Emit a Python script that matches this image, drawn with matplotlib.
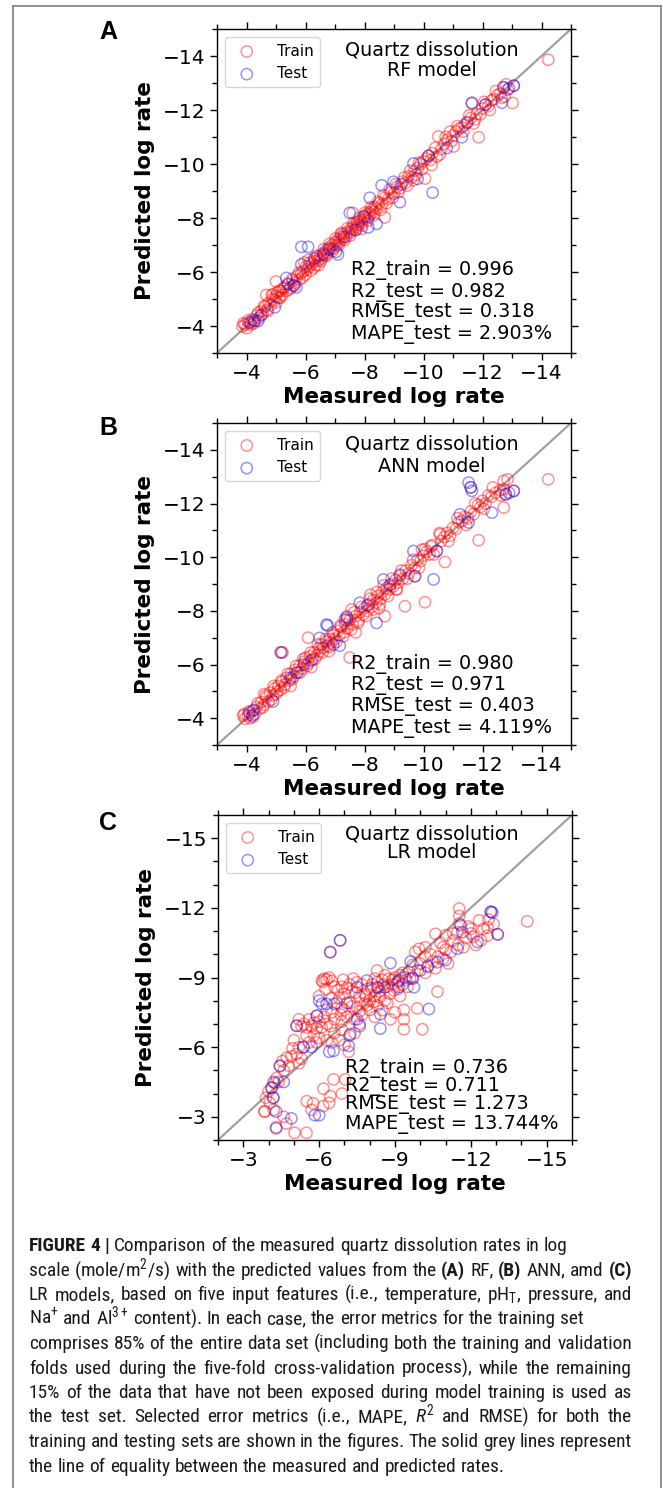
import numpy as np
import matplotlib
matplotlib.use("Agg")
import matplotlib.pyplot as plt
from matplotlib.ticker import MultipleLocator
from matplotlib.lines import Line2D
from matplotlib import font_manager as fm

# ---------------- data (measured, predicted) ----------------
rf_train = [(-3.86,-3.98),(-3.95,-4.05),(-4.02,-3.92),(-4.08,-4.12),(-4.15,-4.05),(-4.2,-4.25),(-4.3,-4.18),
    (-4.35,-4.4),(-4.42,-4.3),(-4.5,-4.55),(-4.55,-4.45),(-4.62,-4.7),(-4.7,-4.6),(-4.75,-4.85),(-4.82,-4.78),
    (-4.9,-5.18),(-4.95,-4.95),(-5.0,-5.1),(-5.05,-5.25),(-5.1,-5.05),(-5.18,-5.3),(-5.22,-5.15),(-5.3,-5.45),
    (-5.35,-5.3),(-5.0,-5.65),(-4.67,-5.15),(-4.85,-5.15),(-5.42,-5.55),(-5.5,-5.42),(-5.58,-5.68),(-5.65,-5.6),
    (-5.72,-5.85),(-5.8,-5.72),(-5.85,-5.95),(-5.92,-6.02),(-5.96,-6.35),(-6.0,-5.9),(-6.05,-6.1),(-6.12,-6.2),
    (-6.18,-6.05),(-6.22,-6.3),(-6.3,-6.4),(-6.35,-6.25),(-6.4,-6.55),(-6.45,-6.45),(-6.5,-6.6),(-6.55,-6.5),
    (-6.6,-6.7),(-6.65,-6.62),(-6.7,-6.8),(-6.75,-6.7),(-6.8,-6.9),(-6.85,-6.82),(-6.9,-7.0),(-6.95,-6.88),
    (-7.0,-7.1),(-7.05,-7.0),(-7.1,-7.2),(-7.15,-7.12),(-7.2,-7.3),(-7.25,-7.22),(-7.3,-7.4),(-7.38,-7.3),
    (-7.45,-7.5),(-7.5,-7.45),(-7.55,-7.62),(-7.6,-7.55),(-7.65,-7.72),(-7.7,-7.65),(-7.75,-7.85),(-7.8,-7.75),
    (-7.85,-7.9),(-7.9,-7.82),(-7.95,-8.05),(-8.0,-7.95),(-8.05,-8.12),(-8.1,-8.0),(-8.15,-8.2),(-8.2,-8.15),
    (-8.25,-8.3),(-8.3,-8.22),(-8.35,-8.42),(-8.4,-8.35),(-8.5,-8.55),(-8.6,-8.5),(-8.69,-8.02),(-7.6,-8.19),
    (-8.7,-8.75),(-8.8,-8.7),(-8.9,-8.95),(-9.0,-8.9),(-9.1,-9.15),(-9.2,-9.1),(-9.3,-9.35),(-9.4,-9.3),
    (-9.5,-9.55),(-9.6,-9.5),(-9.66,-9.4),(-10.05,-9.46),(-9.7,-9.75),(-9.8,-9.85),(-9.9,-10.0),(-10.0,-10.1),
    (-10.1,-10.2),(-10.17,-10.3),(-10.28,-9.96),(-10.45,-10.27),(-10.3,-10.4),(-10.5,-11.02),(-10.6,-10.55),
    (-10.7,-10.75),(-10.9,-11.2),(-10.8,-10.9),(-11.02,-10.65),(-11.0,-11.05),(-11.1,-11.2),(-11.2,-11.3),
    (-11.3,-11.35),(-11.4,-11.45),(-11.5,-11.55),(-11.64,-12.24),(-11.7,-11.5),(-11.6,-11.7),(-11.8,-11.85),
    (-11.93,-11.84),(-11.87,-10.99),(-12.0,-12.05),(-12.1,-12.2),(-12.2,-12.15),(-12.3,-12.35),(-12.38,-12.4),
    (-12.5,-12.55),(-12.6,-12.6),(-12.7,-12.84),(-12.75,-12.5),(-12.85,-12.75),(-13.02,-12.26),(-13.06,-12.9),
    (-14.23,-13.86),(-5.15,-5.05),(-6.1,-6.45),(-6.45,-6.25),(-7.2,-7.4),(-7.9,-7.6),
    (-3.9,-4.1),(-4.05,-4.2),(-4.25,-4.1),(-4.4,-4.5),(-4.6,-4.75),(-4.72,-4.55),(-4.88,-5.0),(-5.02,-4.88),
    (-5.12,-5.32),(-5.25,-5.4),(-5.45,-5.35),(-5.55,-5.75),(-5.62,-5.5),(-5.78,-5.98),(-5.9,-5.8),(-6.02,-6.2),
    (-6.15,-6.35),(-6.28,-6.15),(-6.38,-6.6),(-6.52,-6.4),(-6.62,-6.85),(-6.72,-6.6),(-6.82,-7.05),(-6.92,-6.78),
    (-7.02,-7.25),(-7.12,-6.98),(-7.22,-7.45),(-7.32,-7.18),(-7.42,-7.62),(-7.52,-7.35),(-7.62,-7.8),(-7.72,-7.58),
    (-7.82,-8.0),(-7.92,-7.72),(-8.02,-8.2),(-8.12,-7.9),(-8.22,-8.4),(-8.32,-8.1),(-8.45,-8.6),(-8.55,-8.3),
    (-8.65,-8.85),(-8.75,-8.55),(-8.85,-9.05),(-8.95,-8.75),(-9.05,-9.25),(-9.15,-8.95),(-9.35,-9.5),(-9.45,-9.2),
    (-9.55,-9.75),(-9.75,-9.6),(-9.85,-10.05),(-9.95,-9.8),(-10.25,-10.15),(-10.4,-10.6),(-10.55,-10.35),
    (-10.75,-11.0),(-10.95,-10.85),(-11.15,-11.4),(-11.35,-11.2),(-11.55,-11.8),(-11.75,-11.65),(-12.05,-12.3),
    (-12.25,-12.0),(-12.45,-12.7),(-12.65,-12.45),(-12.8,-12.95)]
rf_test = [(-4.13,-4.13),(-4.25,-4.2),(-4.4,-4.19),(-4.5,-4.4),(-4.96,-4.69),(-5.4,-5.56),(-5.6,-5.5),
    (-5.35,-5.78),(-5.69,-5.43),(-5.86,-6.28),(-5.86,-6.93),(-6.09,-6.93),(-6.3,-6.5),(-6.6,-6.65),(-6.8,-6.85),
    (-7.04,-6.75),(-7.1,-6.65),(-7.3,-7.3),(-7.5,-8.19),(-7.7,-7.55),(-8.0,-8.05),(-8.13,-7.65),(-8.18,-8.75),
    (-8.41,-7.78),(-8.58,-9.21),(-8.98,-9.34),(-9.2,-8.59),(-9.25,-9.25),(-9.66,-10.02),(-9.8,-9.45),
    (-10.17,-10.3),(-10.31,-8.94),(-10.79,-10.59),(-11.3,-10.99),(-11.47,-11.53),(-11.64,-12.27),(-12.1,-12.2),
    (-12.66,-12.27),(-12.72,-12.84),(-13.06,-12.9),(-12.9,-12.8)]

ann_train = [(-3.88,-4.09),(-3.95,-3.98),(-4.05,-4.1),(-4.12,-4.0),(-4.2,-4.28),(-4.28,-4.15),(-4.35,-4.42),
    (-4.45,-4.35),(-4.5,-4.6),(-4.6,-4.5),(-4.68,-4.78),(-4.75,-4.62),(-4.8,-4.95),(-4.9,-4.85),(-4.95,-5.1),
    (-5.0,-4.9),(-5.08,-5.2),(-5.15,-5.05),(-5.2,-5.35),(-5.3,-5.25),(-5.35,-5.5),(-5.45,-5.4),(-5.5,-5.65),
    (-5.15,-6.45),(-5.22,-6.45),(-5.6,-5.55),(-5.65,-5.8),(-5.75,-5.7),(-5.8,-5.95),(-5.9,-5.85),(-5.95,-6.1),
    (-6.0,-6.25),(-6.09,-7.0),(-6.1,-6.05),(-6.15,-6.3),(-6.25,-6.2),(-6.3,-6.45),(-6.4,-6.35),(-6.45,-6.6),
    (-6.5,-6.5),(-6.55,-6.75),(-6.6,-6.62),(-6.7,-6.85),(-6.75,-6.7),(-6.8,-6.95),(-6.88,-6.82),(-6.95,-7.1),
    (-7.0,-6.95),(-7.1,-7.25),(-7.15,-7.1),(-7.2,-7.4),(-7.3,-7.2),(-7.35,-7.5),(-7.42,-7.35),(-7.5,-6.26),
    (-7.5,-7.65),(-7.56,-8.05),(-7.6,-7.5),(-7.7,-7.8),(-7.8,-7.65),(-7.85,-7.95),(-7.95,-7.85),(-8.0,-8.1),
    (-8.1,-8.0),(-8.15,-8.25),(-8.25,-8.15),(-8.3,-8.4),(-8.4,-8.3),(-8.45,-8.55),(-8.55,-8.45),(-8.6,-8.7),
    (-8.69,-7.8),(-8.7,-8.62),(-8.75,-8.85),(-8.85,-8.8),(-8.9,-9.0),(-8.98,-8.92),(-9.05,-9.15),(-9.15,-9.05),
    (-9.2,-9.3),(-9.3,-9.2),(-9.37,-8.17),(-9.4,-9.5),(-9.5,-9.4),(-9.6,-9.7),(-9.7,-9.6),(-9.71,-9.29),
    (-9.8,-9.9),(-9.9,-9.85),(-10.0,-10.05),(-10.05,-8.32),(-10.1,-10.2),(-10.2,-10.1),(-10.25,-10.4),
    (-10.3,-10.45),(-10.45,-10.23),(-10.56,-10.85),(-10.73,-9.82),(-10.6,-10.6),(-10.7,-10.75),(-10.8,-10.9),
    (-10.9,-10.8),(-11.0,-11.1),(-11.1,-11.05),(-11.2,-11.3),(-11.3,-11.35),(-11.4,-11.5),(-11.5,-11.45),
    (-11.6,-11.7),(-11.7,-11.6),(-11.87,-10.63),(-11.93,-11.87),(-11.85,-11.95),(-12.0,-12.1),(-12.1,-12.0),
    (-12.2,-12.3),(-12.3,-12.25),(-12.45,-12.4),(-12.6,-12.5),(-12.72,-12.84),(-12.72,-12.53),(-12.72,-11.85),
    (-12.78,-12.35),(-13.06,-12.47),(-11.6,-12.6),(-14.23,-12.9),(-9.95,-10.28),(-8.2,-8.6),(-7.7,-7.2),
    (-6.2,-5.9),(-5.5,-5.2),(-4.6,-4.9),(-6.8,-6.5),(-7.4,-7.8),(-8.5,-8.1),(-9.1,-8.8),
    (-3.92,-4.15),(-4.08,-4.25),(-4.22,-4.05),(-4.38,-4.55),(-4.55,-4.4),(-4.65,-4.85),(-4.85,-4.7),(-4.92,-5.2),
    (-5.05,-5.0),(-5.18,-5.4),(-5.28,-5.15),(-5.4,-5.65),(-5.55,-5.45),(-5.68,-5.95),(-5.82,-5.7),(-5.92,-6.2),
    (-6.05,-5.95),(-6.18,-6.45),(-6.32,-6.2),(-6.42,-6.75),(-6.58,-6.45),(-6.68,-6.95),(-6.82,-6.65),(-6.92,-7.2),
    (-7.05,-6.85),(-7.18,-7.45),(-7.28,-7.05),(-7.4,-7.65),(-7.55,-7.3),(-7.65,-7.95),(-7.78,-7.55),(-7.9,-8.15),
    (-8.05,-7.8),(-8.18,-8.45),(-8.3,-8.05),(-8.42,-8.7),(-8.52,-8.25),(-8.65,-8.95),(-8.8,-8.55),(-8.92,-9.2),
    (-9.08,-8.8),(-9.25,-9.5),(-9.45,-9.2),(-9.65,-9.9),(-9.85,-9.6),(-10.05,-10.3),(-10.35,-10.1),(-10.55,-10.9),
    (-10.85,-10.6),(-11.15,-11.45),(-11.45,-11.2),(-11.75,-12.0),(-12.05,-11.8),(-12.35,-12.6),(-12.62,-12.3),
    (-12.85,-12.9)]
ann_test = [(-4.1,-4.19),(-4.2,-4.1),(-4.25,-4.3),(-4.9,-4.62),(-5.18,-6.45),(-5.5,-5.5),(-5.7,-5.7),
    (-5.95,-6.0),(-6.2,-6.15),(-6.48,-6.99),(-6.71,-7.49),(-6.75,-7.45),(-6.94,-6.74),(-7.16,-6.7),(-7.33,-7.67),
    (-7.4,-7.75),(-7.84,-8.3),(-8.1,-8.2),(-8.41,-7.55),(-8.64,-9.17),(-8.85,-8.95),(-9.2,-9.35),(-9.66,-10.23),
    (-9.71,-9.29),(-10.34,-9.17),(-10.45,-10.23),(-11.24,-11.6),(-11.53,-11.29),(-11.53,-12.78),(-11.6,-12.6),
    (-11.64,-12.47),(-12.32,-11.66),(-12.79,-12.34),(-13.06,-12.47),(-12.9,-12.4)]

lr_train = [(-14.23,-11.42),(-11.54,-11.97),(-11.54,-11.65),(-11.54,-11.32),(-12.79,-11.83),(-12.7,-11.5),
    (-12.66,-11.15),(-13.06,-10.86),(-12.66,-10.8),(-12.33,-11.46),(-11.9,-11.2),(-12.0,-10.9),(-11.47,-10.95),
    (-11.0,-10.82),(-10.6,-10.88),(-11.5,-10.4),(-11.3,-10.6),(-11.8,-10.7),(-12.1,-10.75),(-12.4,-10.6),
    (-10.8,-10.5),(-10.2,-10.3),(-9.95,-10.24),(-9.8,-10.1),(-10.4,-10.0),(-10.7,-9.9),(-10.5,-9.7),(-10.9,-9.8),
    (-11.2,-10.1),(-10.3,-9.45),(-10.0,-9.6),(-9.7,-9.55),(-9.9,-9.3),(-10.6,-9.4),(-9.55,-9.25),(-9.6,-8.95),
    (-10.68,-8.39),(-9.88,-7.67),(-9.35,-7.6),(-9.35,-7.2),(-8.82,-7.2),(-9.35,-6.77),(-10.08,-6.77),(-9.0,-7.5),
    (-6.11,-8.87),(-6.2,-8.95),(-6.3,-8.92),(-6.4,-9.0),(-6.15,-8.8),(-6.6,-8.6),(-6.9,-8.6),(-7.2,-8.7),
    (-7.5,-8.8),(-7.3,-8.4),(-7.0,-8.3),(-6.8,-8.1),(-7.6,-8.2),(-7.9,-8.5),(-8.1,-8.7),(-8.3,-8.8),(-8.5,-8.9),
    (-8.7,-8.6),(-8.9,-8.7),(-9.0,-9.0),(-9.2,-9.1),(-8.29,-9.3),(-8.6,-9.1),(-8.4,-8.4),(-8.2,-8.2),(-8.0,-8.0),
    (-7.8,-7.9),(-7.5,-7.7),(-7.2,-7.9),(-6.9,-7.7),(-6.7,-7.9),(-6.5,-7.5),(-6.3,-7.6),(-7.1,-7.3),(-7.4,-7.2),
    (-7.7,-7.4),(-8.0,-7.6),(-8.3,-7.8),(-8.6,-8.0),(-8.8,-8.3),(-9.1,-8.5),(-9.3,-8.7),(-9.5,-8.6),(-8.5,-7.6),
    (-8.7,-7.9),(-9.2,-8.2),(-5.11,-6.92),(-5.3,-6.9),(-5.5,-6.85),(-5.7,-6.9),(-5.9,-6.8),(-6.1,-6.85),
    (-6.44,-6.9),(-5.2,-7.2),(-5.6,-7.2),(-5.91,-7.35),(-6.2,-7.3),(-5.8,-6.5),(-6.0,-6.4),(-6.3,-6.3),
    (-6.6,-6.6),(-6.8,-6.3),(-7.0,-6.1),(-7.2,-6.5),(-7.17,-5.8),(-5.38,-6.0),(-5.2,-6.0),(-5.6,-6.2),(-5.0,-6.3),
    (-4.72,-5.55),(-4.9,-5.6),(-5.1,-5.7),(-5.3,-5.5),(-4.45,-5.19),(-4.6,-5.0),(-4.8,-5.2),(-4.32,-4.68),
    (-4.25,-4.45),(-4.4,-4.5),(-4.12,-4.25),(-4.0,-4.1),(-4.19,-3.82),(-3.9,-3.82),(-4.05,-3.6),(-3.85,-3.24),
    (-4.2,-3.3),(-3.84,-3.22),(-4.7,-2.71),(-5.03,-2.31),(-5.5,-2.31),(-4.3,-2.55),(-4.6,-3.0),(-5.76,-3.58),
    (-6.16,-3.46),(-5.7,-3.3),(-6.4,-3.6),(-5.51,-3.67),(-6.17,-4.21),(-6.57,-4.61),(-6.44,-3.89),(-7.03,-4.61),
    (-6.9,-4.0),(-6.5,-8.1),(-6.0,-8.2),(-6.44,-10.1),(-6.83,-10.6),(-7.8,-8.3),(-8.9,-8.9),(-9.7,-9.0),
    (-10.2,-9.2),(-11.0,-10.2),(-11.7,-10.3),(-12.2,-10.4),(-6.9,-7.1),(-7.6,-7.0),(-8.2,-7.3),
    (-6.25,-8.5),(-6.5,-8.85),(-6.75,-8.45),(-6.95,-8.9),(-7.1,-8.55),(-7.35,-8.95),(-7.45,-8.35),(-7.7,-8.7),
    (-7.85,-8.2),(-8.05,-8.55),(-8.2,-8.95),(-8.35,-8.55),(-8.55,-8.7),(-8.75,-8.95),(-8.95,-8.45),(-9.1,-8.8),
    (-9.3,-9.2),(-9.45,-8.9),(-7.0,-7.6),(-7.3,-7.75),(-7.6,-7.55),(-7.9,-7.8),(-8.15,-7.95),(-8.4,-8.15),
    (-6.6,-7.2),(-6.85,-7.4),(-5.4,-7.0),(-5.8,-7.05),(-6.0,-7.1),(-6.3,-7.0),(-5.5,-6.5),(-5.9,-6.2),
    (-6.5,-6.2),(-6.9,-6.75),(-7.4,-6.6),(-4.95,-5.95),(-5.2,-5.3),(-4.55,-5.4),(-10.2,-9.9),(-10.9,-10.3),
    (-11.3,-10.9),(-12.0,-11.1),(-12.5,-11.1),(-12.9,-11.3),(-11.1,-9.6)]
lr_test = [(-12.79,-11.83),(-12.85,-11.8),(-13.06,-10.86),(-11.6,-11.25),(-11.66,-10.95),(-12.26,-10.53),
    (-11.47,-10.24),(-11.0,-9.75),(-10.68,-9.66),(-10.3,-9.5),(-9.62,-9.69),(-8.82,-9.62),(-10.0,-9.3),
    (-9.4,-9.0),(-9.7,-8.95),(-9.15,-8.58),(-9.15,-8.87),(-8.6,-8.58),(-8.3,-8.58),(-9.75,-8.58),(-7.89,-8.87),
    (-7.5,-8.58),(-6.83,-10.6),(-6.44,-10.09),(-6.11,-7.86),(-6.3,-7.86),(-6.6,-7.86),(-7.1,-7.9),(-6.0,-8.0),
    (-8.42,-7.42),(-8.42,-6.8),(-10.34,-7.64),(-5.91,-7.35),(-5.11,-6.92),(-5.38,-6.0),(-5.7,-6.0),
    (-6.57,-5.84),(-6.4,-5.8),(-7.17,-6.05),(-7.23,-6.56),(-7.5,-7.2),(-7.6,-6.9),(-4.45,-5.19),(-4.12,-4.25),
    (-4.2,-4.5),(-4.19,-3.82),(-4.3,-3.22),(-4.3,-2.5),(-4.9,-2.93),(-5.83,-3.07),(-6.0,-3.07),(-4.6,-4.5)]

panel_letters = ["A", "B", "C"]
model_names = ["RF model", "ANN model", "LR model"]
metrics = [
    ["R2_train = 0.996", "R2_test = 0.982", "RMSE_test = 0.318", "MAPE_test = 2.903%"],
    ["R2_train = 0.980", "R2_test = 0.971", "RMSE_test = 0.403", "MAPE_test = 4.119%"],
    ["R2_train = 0.736", "R2_test = 0.711", "RMSE_test = 1.273", "MAPE_test = 13.744%"],
]
axis_limits = [(-3, -15), (-3, -15), (-2, -16)]
major_steps = [2, 2, 3]

caption_lines = [
    "**FIGURE **4 **| Comparison of the measured quartz dissolution rates in log",
    "scale (mole/m$^{2}$/s) with the predicted values from the **(A) RF, **(B) ANN, amd **(C)",
    "LR models, based on five input features (i.e., temperature, pH$_{\\mathrm{T}}$, pressure, and",
    "Na$^{+}$ and Al$^{3+}$ content). In each case, the error metrics for the training set",
    "comprises 85% of the entire data set (including both the training and validation",
    "folds used during the five-fold cross-validation process), while the remaining",
    "15% of the data that have not been exposed during model training is used as",
    "the test set. Selected error metrics (i.e., MAPE, $R^{2}$ and RMSE) for both the",
    "training and testing sets are shown in the figures. The solid grey lines represent",
    "the line of equality between the measured and predicted rates.",
]
justified = [False, True, True, False, True, True, True, True, True, False]

# ---------------- styling / layout ----------------
W, H = 663, 1488
fig = plt.figure(figsize=(W / 100, H / 100), dpi=100)
fig.patch.set_facecolor("white")

def fx(px):
    return px / W

def fy(py):
    return 1 - py / H

boxes = [(217, 29, 571, 353), (217, 423, 571, 745), (218, 815, 572, 1140)]
title_y = [(50, 71), (444, 466), (834, 852)]
metric_y = [(270, 292, 313, 335), (664, 686, 707, 728), (1068, 1087, 1105, 1125)]
letter_y = [32, 428, 823]
datasets = [(rf_train, rf_test), (ann_train, ann_test), (lr_train, lr_test)]

flist = fm.fontManager.ttflist
names = {f.name for f in flist}
letter_font = "Liberation Sans" if "Liberation Sans" in names else "DejaVu Sans"

for i in range(3):
    l, t, r, b = boxes[i]
    ax = fig.add_axes([fx(l), fy(b), fx(r) - fx(l), (b - t) / H])
    lo, hi = axis_limits[i]
    ax.plot([lo, hi], [lo, hi], color="#a0a0a0", lw=1.6, zorder=1)
    tr = np.array(datasets[i][0])
    te = np.array(datasets[i][1])
    ax.scatter(tr[:, 0], tr[:, 1], s=66, facecolors="none", edgecolors="red",
               alpha=0.42, linewidths=1.1, label="Train", zorder=2)
    ax.scatter(te[:, 0], te[:, 1], s=66, facecolors="none", edgecolors="blue",
               alpha=0.42, linewidths=1.1, label="Test", zorder=3)
    ax.set_xlim(lo, hi)
    ax.set_ylim(lo, hi)
    ax.xaxis.set_major_locator(MultipleLocator(major_steps[i]))
    ax.yaxis.set_major_locator(MultipleLocator(major_steps[i]))
    ax.xaxis.set_minor_locator(MultipleLocator(1))
    ax.yaxis.set_minor_locator(MultipleLocator(1))
    ax.tick_params(which="both", top=True, right=True, direction="out",
                   labelsize=14.5, width=1.0, pad=3)
    ax.tick_params(which="major", length=5)
    ax.tick_params(which="minor", length=3.5)
    for sp in ax.spines.values():
        sp.set_linewidth(1.0)
    ax.set_xlabel("Measured log rate", fontsize=15.5, fontweight="bold", labelpad=3)
    ax.set_ylabel("Predicted log rate", fontsize=15.5, fontweight="bold", labelpad=6)
    ax.legend(loc="upper left", fontsize=11, handletextpad=1.0,
              borderaxespad=0.55, framealpha=0.8, edgecolor="#cccccc")
    fig.text(fx(432), fy(title_y[i][0]), "Quartz dissolution", fontsize=13.8,
             ha="center", va="center")
    fig.text(fx(432), fy(title_y[i][1]), model_names[i], fontsize=13.8,
             ha="center", va="center")
    mx = 351 if i < 2 else 345
    for k, s in enumerate(metrics[i]):
        fig.text(fx(mx), fy(metric_y[i][k]), s, fontsize=13.8, ha="left", va="center")
    fig.text(fx(108), fy(letter_y[i]), panel_letters[i], fontsize=18,
             fontweight="bold", family=letter_font, ha="center", va="center")

# outer frame
frame_c = "#888888"
fig.add_artist(Line2D([fx(13), fx(13)], [0, fy(6)], transform=fig.transFigure, color=frame_c, lw=1.3))
fig.add_artist(Line2D([fx(13), fx(661)], [fy(6), fy(6)], transform=fig.transFigure, color=frame_c, lw=1.3))
fig.add_artist(Line2D([fx(661), fx(661)], [0, fy(6)], transform=fig.transFigure, color=frame_c, lw=1.3))

# ---------------- caption font choice ----------------
cap_font, cap_stretch = None, "normal"
for cand in ["Liberation Sans Narrow", "Arial Narrow", "Roboto Condensed", "Noto Sans Condensed",
             "Open Sans Condensed", "DejaVu Sans Condensed"]:
    if cand in names:
        cap_font = cand
        break
if cap_font is None:
    for fam in ["Noto Sans", "Open Sans", "Roboto", "DejaVu Sans"]:
        cond = [f for f in flist if f.name == fam and str(f.stretch) in
                ("condensed", "semi-condensed", "extra-condensed", "75", "87.5", "62.5")]
        if cond:
            cap_font, cap_stretch = fam, "condensed"
            break
if cap_font is None:
    cap_font = "Roboto" if "Roboto" in names else "Liberation Sans"

plt.rcParams["mathtext.fontset"] = "custom"
plt.rcParams["mathtext.rm"] = cap_font
plt.rcParams["mathtext.it"] = cap_font + ":italic"
plt.rcParams["mathtext.bf"] = cap_font + ":bold"

renderer = fig.canvas.get_renderer()

def parse(line):
    words = []
    for w in line.split(" "):
        if w.startswith("**"):
            words.append((w[2:], True))
        else:
            words.append((w, False))
    return words

def mk(x, y, s, bold, size):
    return fig.text(x, y, s, fontsize=size, family=cap_font, fontstretch=cap_stretch,
                    fontweight="bold" if bold else "normal", ha="left", va="baseline",
                    color="#1a1a1a")

def width_of(s, bold, size):
    t = mk(0, 0, s, bold, size)
    w = t.get_window_extent(renderer).width
    t.remove()
    return w

left_px, right_px = 29, 632
base = 11.0
sp_base = width_of("a a", False, base) - width_of("aa", False, base)
nat_max = 0.0
for li, line in enumerate(caption_lines):
    if justified[li]:
        wds = parse(line)
        nat = sum(width_of(w, b, base) for w, b in wds) + sp_base * (len(wds) - 1)
        nat_max = max(nat_max, nat)
cap_size = min(16.0, base * (right_px - left_px) / nat_max)
space_w = width_of("a a", False, cap_size) - width_of("aa", False, cap_size)
space_w = max(space_w, 0.22 * cap_size * 100 / 72)

y0, dy = 1251, 24.5
for li, line in enumerate(caption_lines):
    words = parse(line)
    ws = [width_of(w, b, cap_size) for w, b in words]
    if justified[li] and len(words) > 1:
        gap = (right_px - left_px - sum(ws)) / (len(words) - 1)
    else:
        gap = space_w
    x = left_px
    for (w, b), ww in zip(words, ws):
        mk(fx(x), fy(y0 + li * dy), w, b, cap_size)
        x += ww + gap

fig.savefig("out.png", dpi=100, facecolor="white")
